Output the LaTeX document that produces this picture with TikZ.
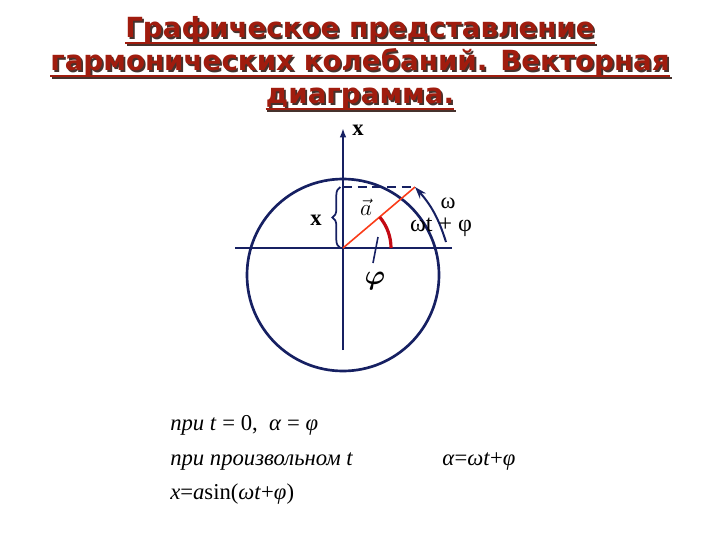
\documentclass[tikz,border=0pt]{standalone}
\usepackage{fontspec}
\setmainfont{Liberation Serif}
\newfontfamily\titlefont{DejaVu Sans}
\usetikzlibrary{positioning,calc,arrows.meta,decorations.pathreplacing}
\definecolor{titlered}{RGB}{160,28,14}
\definecolor{shadowgray}{RGB}{70,50,45}
\definecolor{navy}{RGB}{22,32,98}
\definecolor{vecred}{RGB}{250,60,25}
\definecolor{anglered}{RGB}{195,10,20}

\begin{document}
\begin{tikzpicture}[x=0.75pt,y=0.75pt,
    title/.style={font=\titlefont\bfseries\fontsize{20.8}{24}\selectfont, inner sep=0pt, anchor=base},
    uline/.style={line width=1.6pt},
    axis/.style={navy, line width=1.6pt},
    lbl/.style={font=\fontsize{17}{20}\selectfont, inner sep=0pt},
    formula/.style={font=\fontsize{17}{20}\selectfont, inner sep=0pt, anchor=base west}
]
    \useasboundingbox (0,0) rectangle (720,540);

    % Title (shadow first)
    \foreach \txt/\yy [count=\i] in {Графическое представление/502, гармонических колебаний. Векторная/469, диаграмма./436}{
        \node[title, shadowgray] (s\i) at (361.8,\yy-1.8) {\txt};
        \draw[uline, shadowgray] ([yshift=-4pt]s\i.base west) -- ([yshift=-4pt]s\i.base east);
        \node[title, titlered] (t\i) at (360,\yy) {\txt};
        \draw[uline, titlered] ([yshift=-4pt]t\i.base west) -- ([yshift=-4pt]t\i.base east);
    }

    % Axes and circle
    \coordinate (O) at (343,292);
    \coordinate (xbot) at (343,190);
    \coordinate (xtop) at (343,412);
    \coordinate (hleft) at (235,292);
    \coordinate (hright) at (452,292);
    \coordinate (C) at (343,265);
    \draw[axis] (hleft) -- (hright);
    \draw[axis, -{Latex[length=7pt,width=5pt]}] (xbot) -- (xtop);
    \node[lbl, font=\bfseries\fontsize{17}{20}\selectfont] (xlab) at (358,410) {x};
    \draw[navy, line width=2pt] (C) circle[radius=96];

    % Vector
    \coordinate (T) at (415,353);
    \coordinate (D) at (343,353);
    \coordinate (W) at (446,298);
    \draw[navy, dash pattern=on 7pt off 4pt, line width=1.5pt] (D) -- (T);
    \draw[vecred, line width=1.2pt] (O) -- (T);
    \draw[navy, line width=1.5pt, -{Stealth[length=9pt,width=6pt]}] (W) to[bend right=12] (T);
    \draw[anglered, line width=2.4pt] ($(O)+(48,0)$) arc[start angle=0, end angle=40, radius=48];
    \draw[navy, line width=1.3pt, decorate, decoration={brace, amplitude=6pt, raise=2pt}] (O) -- (D);

    % Labels
    \node[lbl, font=\bfseries\fontsize{17}{20}\selectfont] (xamp) at (316,320) {x};
    \node[lbl, font=\fontsize{19}{22}\selectfont] (avec) at (366,333) {$\vec{a}$};
    \node[lbl] (omega) at (448,337) {ω};
    \node[lbl, font=\fontsize{18}{21}\selectfont] (phase) at (441,313) {ωt + φ};
    \coordinate (p1) at (378,303);
    \coordinate (p2) at (373,277);
    \draw[navy, line width=1.2pt] (p1) -- (p2);
    \node[lbl, font=\fontsize{20}{24}\selectfont\boldmath] (philab) at (375,259) {$\varphi$};

    % Formulas
    \node[formula] (f1) at (170,110) {\textit{при t} = 0,\ \ \textit{α} = \textit{φ}};
    \node[formula] (f2) at (170,75) {\textit{при произвольном t}};
    \node[formula] (f3) at (442,75) {\textit{α}=\textit{ωt}+\textit{φ}};
    \node[formula] (f4) at (170,41) {\textit{x}=\textit{a}sin(\textit{ωt}+\textit{φ})};
\end{tikzpicture}
\end{document}
